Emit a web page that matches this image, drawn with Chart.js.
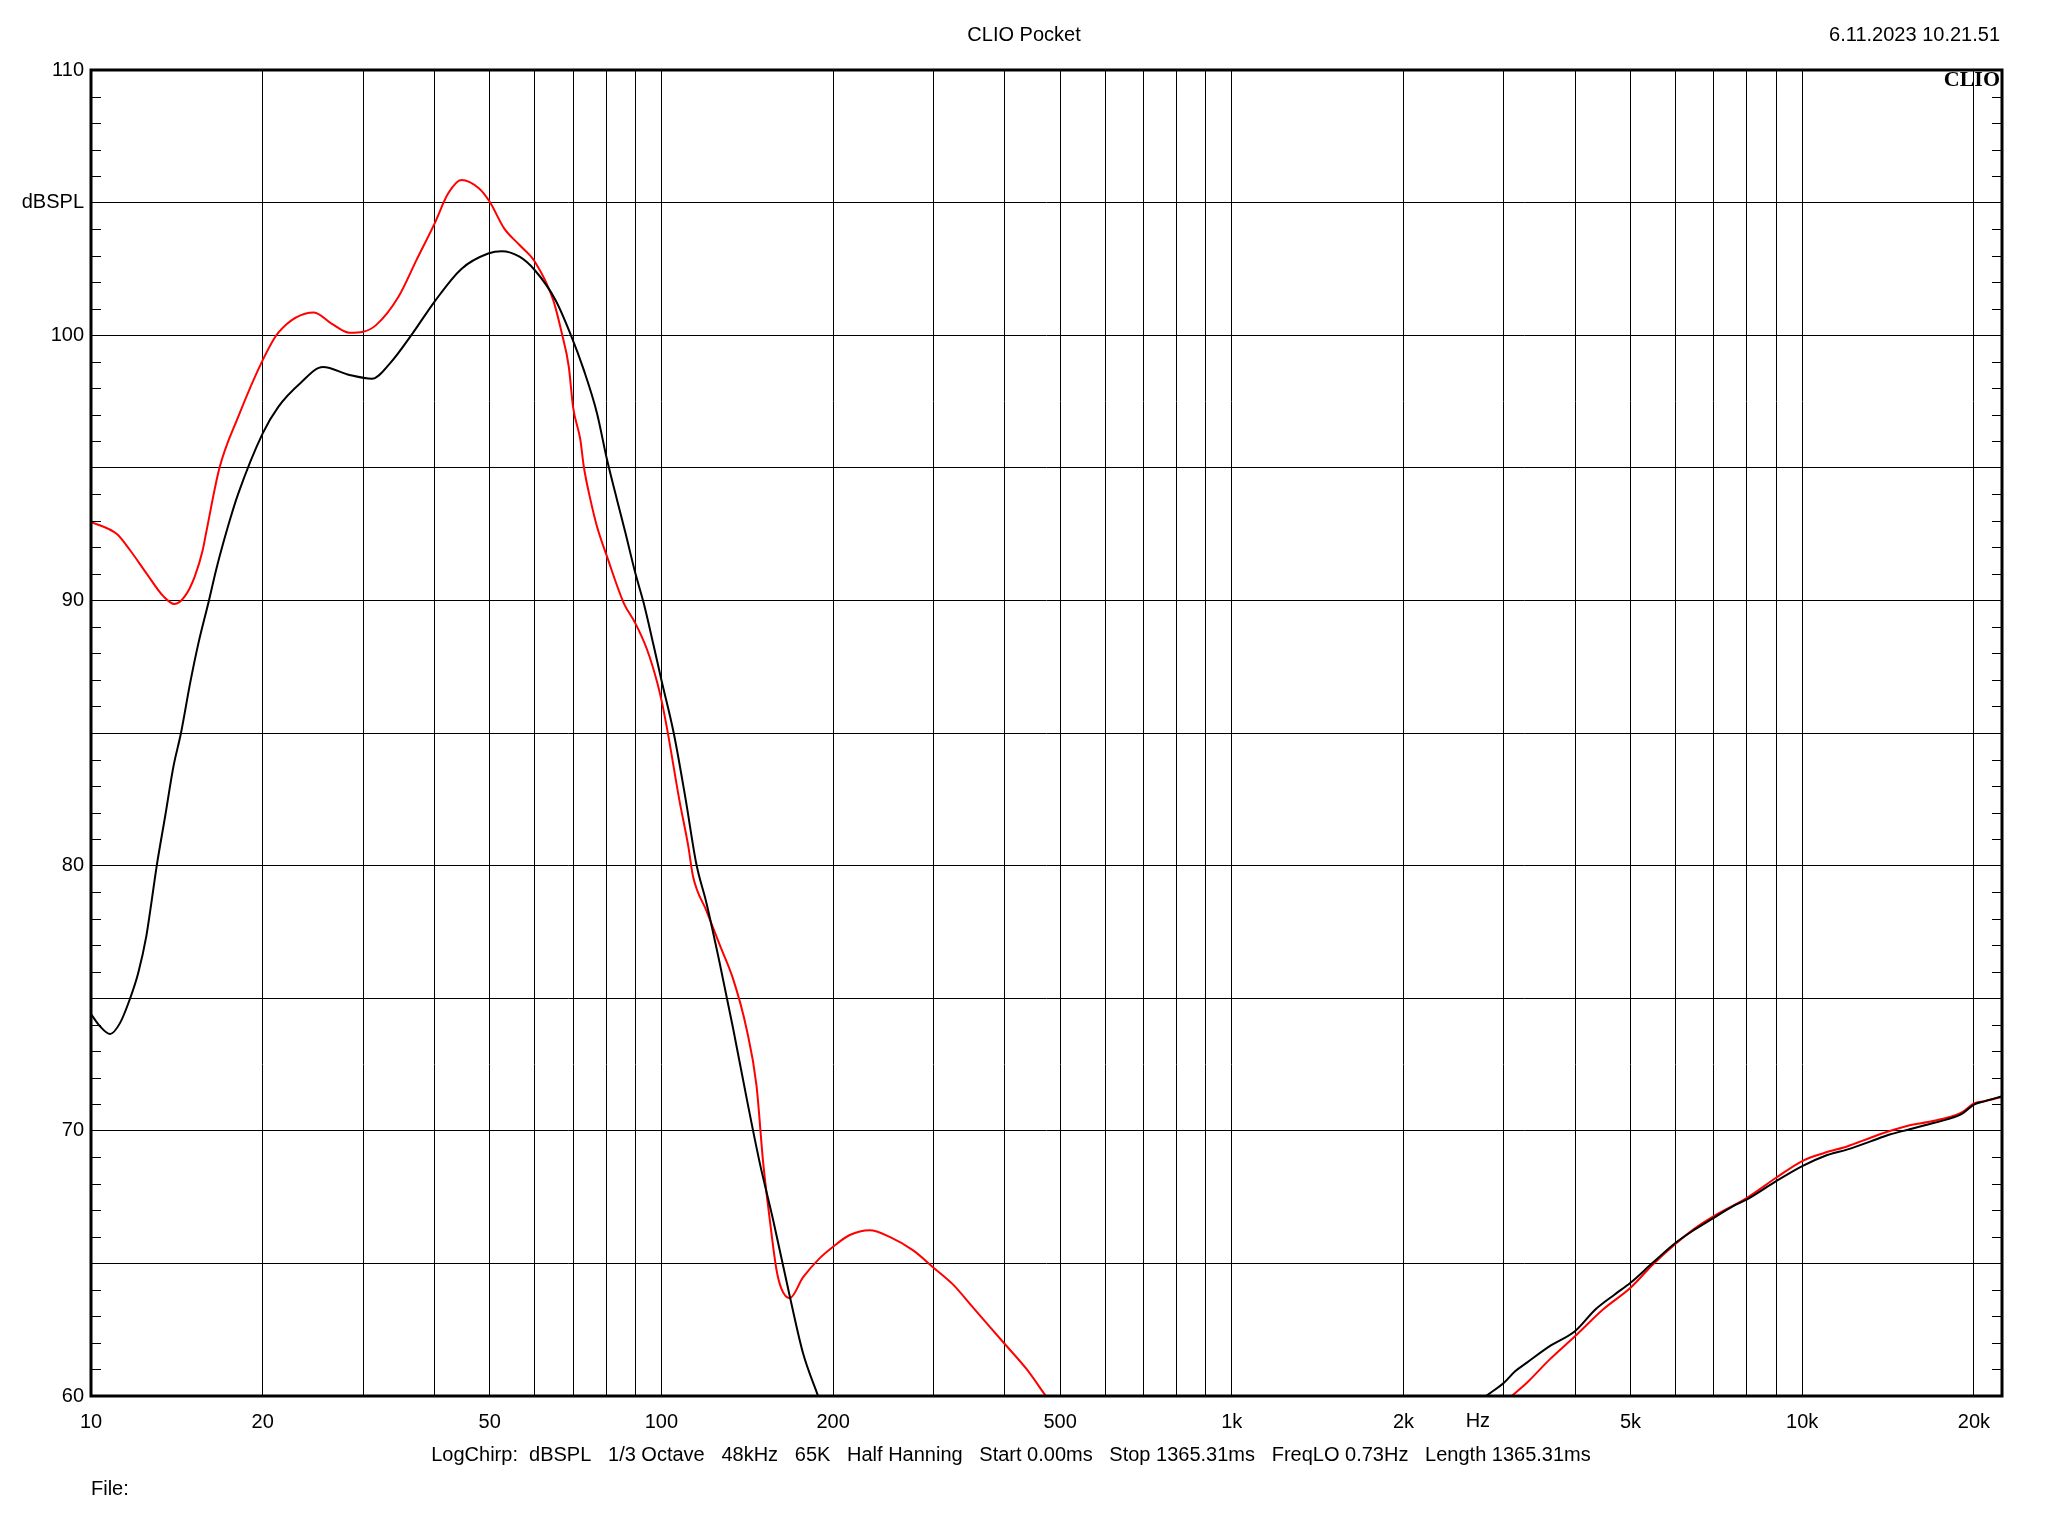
<!DOCTYPE html>
<html>
<head>
<meta charset="utf-8">
<title>CLIO Pocket</title>
<script src="https://cdn.jsdelivr.net/npm/chart.js@4.4.1/dist/chart.umd.min.js"></script>
<style>
    html, body { margin: 0; padding: 0; background: #fff; }
    #wrap { width: 2048px; height: 1536px; }
</style>
</head>
<body>
<div id="wrap"><canvas id="responseChart" width="2048" height="1536"></canvas></div>
<script>
// Frequency response data (Hz / dBSPL)
// null marks where the curve drops below the 60 dB floor
const blackFreq = [10, 10.37, 10.8, 11.24, 11.7, 12.1, 12.5, 12.78, 13.04, 13.49, 13.95, 14.38, 14.92, 15.43, 16.1, 16.62, 17.5,
    18.1, 20, 21.3, 23.3, 25.5, 28.4, 31.1, 33.4, 36.6, 40, 44.6, 49.7, 52.5, 56.4, 60, 65.2, 69.2, 73.1, 77.1, 80.3, 83.6,
    86.5, 90, 93.1, 97, 100, 105.1, 110.3, 115.2, 119.9, 126.6, 133.6, 141, 148.7, 157, 167.9, 177.2, 188.2, 1000,
    2790, 3000, 3142, 3291, 3609, 4000, 4343, 4692, 5000, 5473, 6000, 6484, 7000, 7566, 8000, 9000, 10000, 10953, 12015,
    13180, 14231, 15377, 16610, 17940, 19077, 20000, 20930, 22400];
const blackDb = [74.4, 73.94, 73.65, 74.06, 74.97, 75.95, 77.33, 78.7, 80.0, 81.86, 83.74, 85.0, 86.88, 88.39, 90.0, 91.26, 93.0,
    94.0, 96.3, 97.3, 98.2, 98.8, 98.5, 98.36, 98.93, 100.06, 101.26, 102.5, 103.08, 103.17, 102.96, 102.45, 101.33, 100.07, 98.69, 97.06, 95.3, 93.79,
    92.54, 91.03, 89.9, 88.26, 87.0, 85.0, 82.49, 80.04, 78.6, 76.3, 73.85, 71.25, 68.8, 66.64, 63.76, 61.6, 60.0, null,
    60.0, 60.5, 60.94, 61.26, 61.88, 62.45, 63.27, 63.83, 64.27, 65.03, 65.78, 66.28, 66.72, 67.16, 67.41, 68.1, 68.67, 69.05, 69.3,
    69.6, 69.86, 70.05, 70.24, 70.43, 70.65, 70.99, 71.12, 71.3];

const redFreq = [10, 11.1, 11.7, 12.5, 13.4, 14.0, 14.6, 15.2, 15.7, 15.9, 16.8, 18.1, 20, 21.3, 24.6, 26.4, 28.4, 30, 31.6, 34.6,
    37.2, 40, 42.3, 44.6, 47.9, 50, 53, 56.4, 60, 64.6, 66.9, 68.8, 70, 72.1, 73.1, 75.1, 77.1, 80.3, 85.9, 90, 94.4, 98.4,
    100, 102.4, 107.5, 111.4, 113.6, 119.9, 126.6, 133.6, 141, 146.8, 150.8, 154.9, 159.1, 162.3, 167.9, 177.2, 189.5, 200,
    213.9, 231.9, 251.3, 276.3, 300, 324.7, 352, 400, 436.5, 472, 1000,
    3094, 3291, 3609, 4000, 4479, 5000, 5473, 6000, 6484, 7000, 8000, 9000, 10000, 10953, 12015, 13180, 14231, 15377,
    16610, 17940, 19077, 20000, 20930, 22400];
const redDb = [92.96, 92.5, 91.9, 91.03, 90.15, 89.86, 90.15, 90.9, 91.9, 92.5, 95.0, 96.9, 99.06, 100.1, 100.86, 100.44, 100.09, 100.13, 100.38, 101.45,
    102.83, 104.2, 105.35, 105.85, 105.53, 105.03, 104.03, 103.4, 102.77, 101.33, 100.07, 98.82, 97.3, 96.05, 95.05, 93.79, 92.79, 91.65, 89.9, 89.14, 88.14, 86.88,
    86.25, 85.12, 82.48, 80.76, 79.6, 78.3, 77.0, 75.72, 73.85, 71.7, 68.8, 66.64, 64.77, 64.05, 63.69, 64.48, 65.2, 65.63,
    66.07, 66.25, 66.0, 65.49, 64.84, 64.2, 63.33, 61.96, 61.02, 60.0, null,
    60.0, 60.5, 61.38, 62.26, 63.27, 64.08, 64.96, 65.74, 66.32, 66.78, 67.47, 68.23, 68.86, 69.17, 69.42, 69.74, 69.99, 70.2,
    70.33, 70.49, 70.7, 71.03, 71.12, 71.28];

// Axis grid and labels
const freqGrid = [10, 20, 30, 40, 50, 60, 70, 80, 90, 100, 200, 300, 400, 500, 600, 700, 800, 900,
    1000, 2000, 3000, 4000, 5000, 6000, 7000, 8000, 9000, 10000, 20000];
const freqLabels = { 10: '10', 20: '20', 50: '50', 100: '100', 200: '200', 500: '500', 1000: '1k', 2000: '2k',
    5000: '5k', 10000: '10k', 20000: '20k' };
const unitLabelFreq = 2700; // "Hz" sits between 2k and 3k
const dbLabels = { 60: '60', 70: '70', 80: '80', 90: '90', 100: '100', 105: 'dBSPL', 110: '110' };

const titleText = 'CLIO Pocket';
const dateText = '6.11.2023 10.21.51';
const footerText = 'LogChirp:  dBSPL   1/3 Octave   48kHz   65K   Half Hanning   Start 0.00ms   Stop 1365.31ms   FreqLO 0.73Hz   Length 1365.31ms';
const fileText = 'File:';

const FONT = '"Liberation Sans", Arial, sans-serif';

function toPoints(xs, ys) {
    return xs.map((x, i) => ({ x: x, y: ys[i] }));
}

// Frame, 1 dB minor ticks and header/footer text
const clioDecor = {
    id: 'clioDecor',
    afterDraw(chart) {
        const ctx = chart.ctx;
        const area = chart.chartArea;
        const x = chart.scales.x;
        const y = chart.scales.y;
        ctx.save();

        // minor ticks on both vertical axes
        ctx.strokeStyle = '#000';
        ctx.lineWidth = 1;
        ctx.beginPath();
        for (let v = y.min; v <= y.max; v++) {
            if (v % 5 === 0) continue;
            const py = Math.round(y.getPixelForValue(v)) + 0.5;
            ctx.moveTo(area.left, py);
            ctx.lineTo(area.left + 10, py);
            ctx.moveTo(area.right - 10, py);
            ctx.lineTo(area.right, py);
        }
        ctx.stroke();

        // thick frame
        ctx.lineWidth = 3;
        ctx.strokeRect(area.left, area.top, area.right - area.left, area.bottom - area.top);

        ctx.fillStyle = '#000';
        ctx.textBaseline = 'middle';
        ctx.font = '20px ' + FONT;
        ctx.textAlign = 'center';
        ctx.fillText(titleText, chart.width / 2, 35);
        ctx.fillText(footerText, 1011, 1455);
        ctx.fillText('Hz', x.getPixelForValue(unitLabelFreq), 1421);
        ctx.textAlign = 'right';
        ctx.fillText(dateText, area.right - 2, 35);
        ctx.textAlign = 'left';
        ctx.fillText(fileText, area.left, 1489);

        ctx.font = 'bold 22px "Liberation Serif", "DejaVu Serif", serif';
        ctx.textAlign = 'right';
        ctx.textBaseline = 'alphabetic';
        ctx.fillText('CLIO', area.right - 2, area.top + 16);
        ctx.restore();
    }
};

const ctx = document.getElementById('responseChart').getContext('2d');
const responseChart = new Chart(ctx, {
    type: 'line',
    data: {
        datasets: [{
            label: 'Black',
            data: toPoints(blackFreq, blackDb),
            borderColor: '#000000',
            borderWidth: 2,
            pointRadius: 0,
            cubicInterpolationMode: 'monotone',
            spanGaps: false
        }, {
            label: 'Red',
            data: toPoints(redFreq, redDb),
            borderColor: '#ff0000',
            borderWidth: 2,
            pointRadius: 0,
            cubicInterpolationMode: 'monotone',
            spanGaps: false
        }]
    },
    options: {
        responsive: false,
        animation: false,
        devicePixelRatio: 1,
        layout: { padding: { top: 70, right: 46, left: 0, bottom: 0 } },
        plugins: {
            legend: { display: false },
            tooltip: { enabled: false }
        },
        scales: {
            x: {
                type: 'logarithmic',
                min: 10,
                max: 22400,
                afterBuildTicks: (scale) => {
                    scale.ticks = freqGrid.map(v => ({ value: v }));
                },
                afterFit: (scale) => { scale.height = 140; },
                grid: { color: '#000', lineWidth: 1, drawTicks: false },
                border: { display: false },
                ticks: {
                    autoSkip: false,
                    maxRotation: 0,
                    padding: 14,
                    color: '#000',
                    font: { family: FONT, size: 20 },
                    callback: (value) => freqLabels[value] || ''
                }
            },
            y: {
                type: 'linear',
                min: 60,
                max: 110,
                afterFit: (scale) => { scale.width = 91; },
                grid: { color: '#000', lineWidth: 1, drawTicks: false },
                border: { display: false },
                ticks: {
                    stepSize: 5,
                    padding: 7,
                    color: '#000',
                    font: { family: FONT, size: 20 },
                    callback: (value) => dbLabels[value] || ''
                }
            }
        }
    },
    plugins: [clioDecor]
});
</script>
</body>
</html>
